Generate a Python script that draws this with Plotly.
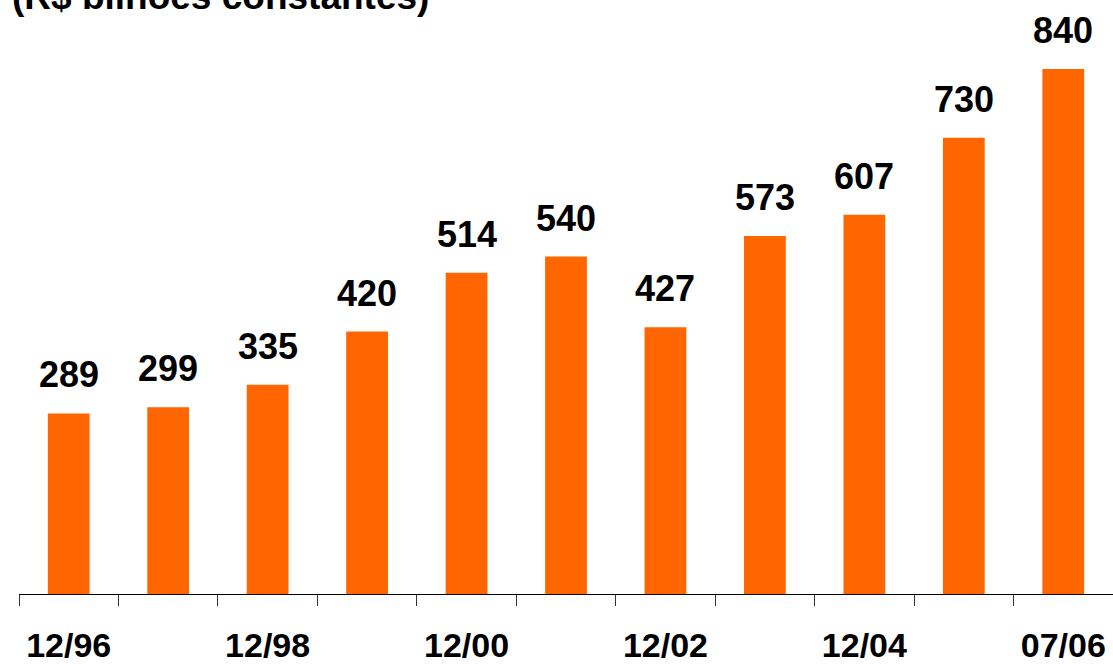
import plotly.graph_objects as go

# Valores (R$ bilhões constantes)
periods = ["12/96", "12/97", "12/98", "12/99", "12/00", "12/01",
           "12/02", "12/03", "12/04", "12/05", "07/06"]
values = [289, 299, 335, 420, 514, 540, 427, 573, 607, 730, 840]
shown_labels = ["12/96", "", "12/98", "", "12/00", "",
                "12/02", "", "12/04", "", "07/06"]

ORANGE = "#FF6600"
FONT = "Arial, Liberation Sans, sans-serif"

fig = go.Figure()
fig.add_trace(go.Bar(x=periods, y=values, marker_color=ORANGE,
                     marker_line_width=0, showlegend=False, hoverinfo="skip"))

# rótulos de valor acima das barras
for p, v in zip(periods, values):
    fig.add_annotation(x=p, y=v, text=f"<b>{v}</b>", showarrow=False,
                       yanchor="bottom", yshift=16,
                       font=dict(family=FONT, size=36, color="black"))

fig.add_annotation(text="<b>(R$ bilhões constantes)</b>", xref="paper", yref="paper",
                   x=-0.008, y=1, xanchor="left", yanchor="middle", yshift=4,
                   showarrow=False, font=dict(family=FONT, size=37, color="black"))

fig.update_layout(
    width=1113, height=664,
    margin=dict(l=19, r=0, t=0, b=70, autoexpand=False),
    plot_bgcolor="white", paper_bgcolor="white",
    bargap=0.58,
    xaxis=dict(type="category", tickvals=periods,
               ticktext=[f"<b>{t}</b>" if t else "" for t in shown_labels],
               tickson="boundaries", ticks="outside", ticklen=11,
               tickcolor="#333333", tickwidth=1, automargin=False,
               showline=True, linecolor="black", linewidth=1,
               showgrid=False, ticklabelstandoff=21,
               tickfont=dict(family=FONT, size=34, color="black")),
    yaxis=dict(visible=False, range=[0, 950.4], automargin=False),
)

fig.write_html("out.html", config={"displayModeBar": False},
               post_script="document.body.style.margin='0';")
